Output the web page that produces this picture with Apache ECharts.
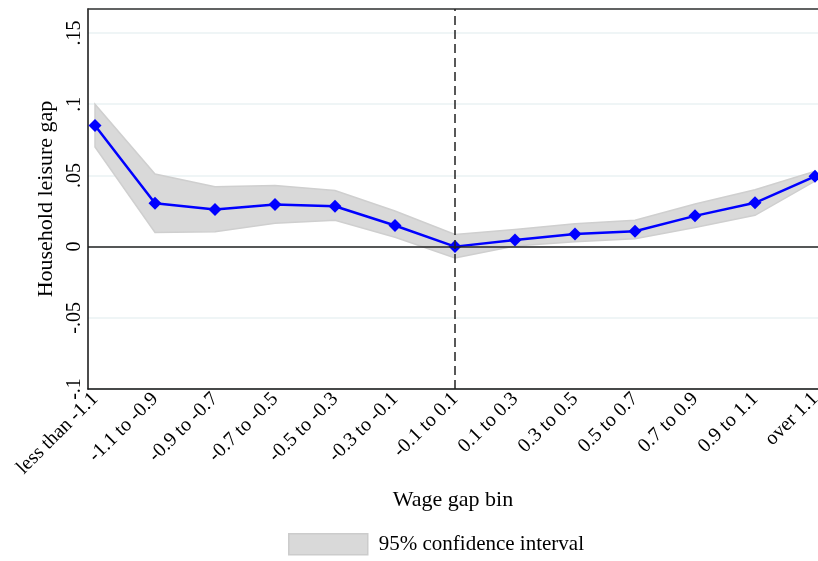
<!DOCTYPE html>
<html>
<head>
<meta charset="utf-8">
<script src="https://cdn.jsdelivr.net/npm/echarts@6/dist/echarts.min.js"></script>
<style>
  html, body { margin: 0; padding: 0; background: #fff; overflow: hidden; }
  #chart { width: 818px; height: 561px; }
</style>
</head>
<body>
<div id="chart"></div>
<script>
// Wage gap bins on the horizontal axis
const categories = ['less than -1.1', '-1.1 to -0.9', '-0.9 to -0.7', '-0.7 to -0.5',
  '-0.5 to -0.3', '-0.3 to -0.1', '-0.1 to 0.1', '0.1 to 0.3', '0.3 to 0.5',
  '0.5 to 0.7', '0.7 to 0.9', '0.9 to 1.1', 'over 1.1'];

// Point estimates of the household leisure gap
const estimate = [0.085, 0.0305, 0.026, 0.0296, 0.0284, 0.0148, 0.0,
  0.0047, 0.0088, 0.0108, 0.0216, 0.0308, 0.0494];

// 95% confidence bounds
const ciUpper = [0.100, 0.051, 0.042, 0.043, 0.0394, 0.025, 0.0085,
  0.012, 0.016, 0.0185, 0.030, 0.040, 0.053];
const ciLower = [0.070, 0.010, 0.0105, 0.0165, 0.0185, 0.0066, -0.008,
  0.0005, 0.0035, 0.0055, 0.0135, 0.022, 0.046];

// Y tick values and their printed form
const yTicks = [-0.1, -0.05, 0, 0.05, 0.1, 0.15];
const yTickLabels = ['-.1', '-.05', '0', '.05', '.1', '.15'];

const referenceBin = 6; // the '-0.1 to 0.1' bin

const FONT = 'Liberation Serif';
const chart = echarts.init(document.getElementById('chart'), null, { renderer: 'canvas', width: 818, height: 561 });

const xRange = { min: -7 / 60, max: 12.05 };

chart.setOption({
  animation: false,
  backgroundColor: '#ffffff',
  grid: { left: 88, top: 9, right: 0, bottom: 172, outerBoundsMode: 'none', containLabel: false },
  legend: {
    data: ['95% confidence interval'],
    left: 288,
    top: 533,
    padding: 0,
    icon: 'rect',
    itemWidth: 79,
    itemHeight: 21,
    itemStyle: { color: '#d9d9d9', borderColor: '#cccccc', borderWidth: 1.5 },
    textStyle: { fontFamily: FONT, fontSize: 21, color: '#000', padding: [0, 0, 0, 6] },
    selectedMode: false
  },
  xAxis: [{
    type: 'value',
    min: xRange.min,
    max: xRange.max,
    name: 'Wage gap bin',
    nameLocation: 'middle',
    nameGap: 100,
    nameTextStyle: { fontFamily: FONT, fontSize: 22, color: '#000' },
    axisLine: { show: true, onZero: false, lineStyle: { color: '#111', width: 1.5 } },
    axisTick: { show: false },
    splitLine: { show: false },
    axisLabel: {
      customValues: categories.map((c, i) => i),
      formatter: v => categories[Math.round(v)] || '',
      rotate: 45,
      margin: 7,
      fontFamily: FONT,
      fontSize: 20,
      color: '#000',
      hideOverlap: false
    }
  }, {
    // frame line along the top of the plot
    type: 'value',
    position: 'top',
    min: xRange.min,
    max: xRange.max,
    axisLine: { show: true, onZero: false, lineStyle: { color: '#333', width: 1.5 } },
    axisTick: { show: false },
    axisLabel: { show: false },
    splitLine: { show: false }
  }],
  yAxis: {
    type: 'value',
    min: -0.1,
    max: 0.1669,
    interval: 0.05,
    name: 'Household leisure gap',
    nameLocation: 'middle',
    nameRotate: 90,
    nameGap: 26,
    nameTextStyle: { fontFamily: FONT, fontSize: 22, color: '#000' },
    axisLine: { show: true, onZero: false, lineStyle: { color: '#111', width: 1.5 } },
    axisTick: { show: false },
    splitLine: { show: true, lineStyle: { color: '#eaf2f3', width: 1.5 } },
    axisLabel: {
      customValues: yTicks,
      formatter: v => {
        const k = yTicks.findIndex(t => Math.abs(t - v) < 1e-9);
        return k >= 0 ? yTickLabels[k] : '';
      },
      rotate: 90,
      margin: 3,
      fontFamily: FONT,
      fontSize: 20,
      color: '#000'
    }
  },
  series: [{
    name: '95% confidence interval',
    type: 'custom',
    xAxisIndex: 0,
    yAxisIndex: 0,
    z: 2,
    itemStyle: { color: '#d9d9d9' },
    data: [[0, ciLower[0]]],
    renderItem: function (params, api) {
      const pts = [];
      for (let i = 0; i < categories.length; i++) pts.push(api.coord([i, ciUpper[i]]));
      for (let i = categories.length - 1; i >= 0; i--) pts.push(api.coord([i, ciLower[i]]));
      return {
        type: 'polygon',
        shape: { points: pts },
        style: { fill: '#d9d9d9', stroke: '#cfcfcf', lineWidth: 1.5 }
      };
    }
  }, {
    name: 'Estimate',
    type: 'line',
    z: 4,
    clip: false,
    data: estimate.map((v, i) => [i, v]),
    symbol: 'diamond',
    symbolSize: 13,
    showAllSymbol: true,
    lineStyle: { color: '#0000ff', width: 2.5 },
    itemStyle: { color: '#0000ff' },
    markLine: {
      silent: true,
      symbol: 'none',
      label: { show: false },
      animation: false,
      data: [
        { yAxis: 0, lineStyle: { color: '#222', width: 1.5, type: 'solid' } },
        { xAxis: referenceBin, lineStyle: { color: '#222', width: 1.5, type: [9, 5] } }
      ]
    }
  }]
});
</script>
</body>
</html>
